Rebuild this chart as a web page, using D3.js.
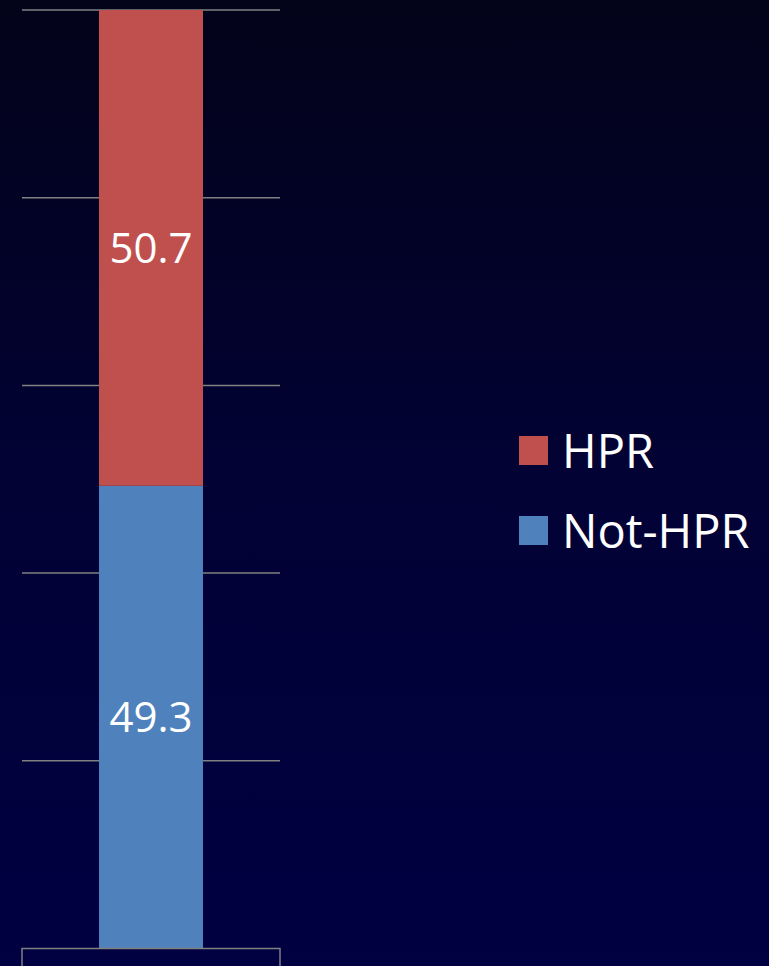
<!DOCTYPE html>
<html><head><meta charset="utf-8">
<script src="https://cdn.jsdelivr.net/npm/d3@7/dist/d3.min.js"></script>
<style>html,body{margin:0;padding:0;background:#000030;}svg{display:block;}</style>
</head><body><svg id="c" width="769" height="966"></svg>
<script>
const categories = ["All"];
const seriesNames = ["Not-HPR", "HPR"];
const notHPR = [49.3];
const hpr = [50.7];
const yTicks = [0, 20, 40, 60, 80, 100];
const legendOrder = ["HPR", "Not-HPR"];

const colors = {"Not-HPR": "#4F81BD", "HPR": "#C0504D"};
const W = 769, H = 966;
const FONT = "'Open Sans', 'Noto Sans', sans-serif";
const svg = d3.select("#c");
const defs = svg.append("defs");
const grad = defs.append("linearGradient").attr("id","bg").attr("x1",0).attr("y1",0).attr("x2",0).attr("y2",1);
grad.append("stop").attr("offset","0%").attr("stop-color","#03031a");
grad.append("stop").attr("offset","50%").attr("stop-color","#020235");
grad.append("stop").attr("offset","100%").attr("stop-color","#000042");
svg.append("rect").attr("width",W).attr("height",H).attr("fill","url(#bg)");

const x = d3.scaleBand().domain(categories).range([22, 280]).paddingInner(0).paddingOuter(0.3);
const y = d3.scaleLinear().domain([0, 100]).range([948.5, 10]);

const data = categories.map((c,i)=>({cat:c, "Not-HPR":notHPR[i], "HPR":hpr[i]}));
const stack = d3.stack().keys(seriesNames)(data);

// gridlines
svg.append("g").selectAll("line").data(yTicks.filter(t=>t>0)).join("line")
  .attr("x1",22).attr("x2",280).attr("y1",d=>y(d)).attr("y2",d=>y(d))
  .attr("stroke","#808080").attr("stroke-width",1.5);

// bars
const bw = 104;
stack.forEach(s=>{
  svg.append("g").selectAll("rect").data(s).join("rect")
    .attr("x", d=>x(d.data.cat)+x.bandwidth()/2 - bw/2)
    .attr("width", bw)
    .attr("y", d=>y(d[1]))
    .attr("height", d=>y(d[0])-y(d[1]))
    .attr("fill", colors[s.key]);
  svg.append("g").selectAll("text").data(s).join("text")
    .attr("x", d=>x(d.data.cat)+x.bandwidth()/2)
    .attr("y", d=>(y(d[0])+y(d[1]))/2)
    .attr("dy","0.36em")
    .attr("text-anchor","middle")
    .attr("fill","#ffffff")
    .attr("font-family",FONT)
    .attr("font-size",42)
    .text(d=>(d[1]-d[0]).toFixed(1));
});

// axis baseline with end ticks
const ax = svg.append("g").attr("transform",`translate(0,${y(0)})`)
  .call(d3.axisBottom(x).tickValues([]).tickSizeOuter(20));
ax.select(".domain").attr("stroke","#808080").attr("stroke-width",1.5)
  .attr("d", `M22,20V0H280V20`);

// legend
const lg = svg.append("g").attr("transform","translate(519,436)");
legendOrder.forEach((k,i)=>{
  const g = lg.append("g").attr("transform",`translate(0,${i*80})`);
  g.append("rect").attr("width",29).attr("height",29).attr("fill",colors[k]);
  g.append("text").attr("x",43).attr("y",15).attr("dy","0.36em")
    .attr("fill","#ffffff").attr("font-family",FONT)
    .attr("font-size",47).text(k);
});
</script></body></html>
